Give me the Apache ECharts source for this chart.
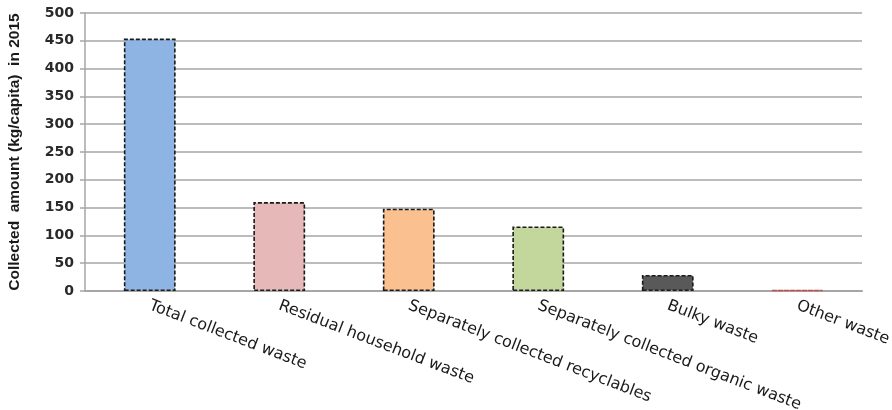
<!DOCTYPE html>
<html>
<head>
<meta charset="utf-8">
<script src="https://cdn.jsdelivr.net/npm/echarts@6/dist/echarts.min.js"></script>
<style>
  html, body { margin: 0; padding: 0; background: #fff; }
  #chart { width: 892px; height: 410px; }
</style>
</head>
<body>
<div id="chart"></div>
<script>
// Waste categories and per-capita collected amounts (kg/capita, 2015)
const categories = [
  'Total collected waste',
  'Residual household waste',
  'Separately collected recyclables',
  'Separately collected organic waste',
  'Bulky waste',
  'Other waste'
];
const amounts = [454, 160, 148, 116, 29, 2];
const fillColors = ['#8EB4E3', '#E6B9B8', '#FAC090', '#C3D69B', '#595959', '#E6B9B8'];
const borderColors = ['#1a1a1a', '#1a1a1a', '#1a1a1a', '#1a1a1a', '#1a1a1a', '#C0504D'];
const yTicks = { min: 0, max: 500, step: 50 };

const chart = echarts.init(document.getElementById('chart'));

chart.setOption({
  animation: false,
  grid: { left: 85, right: 30, top: 13, bottom: 119, outerBoundsMode: 'none', containLabel: false },
  xAxis: {
    type: 'category',
    data: categories,
    axisLine: { lineStyle: { color: '#A6A6A6', width: 2 } },
    axisTick: { show: false },
    axisLabel: {
      rotate: -21,
      interval: 0,
      margin: 14,
      color: '#1a1a1a',
      fontFamily: 'DejaVu Sans, Verdana, sans-serif',
      fontSize: 16
    }
  },
  yAxis: {
    type: 'value',
    min: yTicks.min,
    max: yTicks.max,
    interval: yTicks.step,
    name: 'Collected  amount (kg/capita)  in 2015',
    nameLocation: 'middle',
    nameGap: 62,
    nameTextStyle: {
      fontFamily: 'Liberation Sans Narrow, Arial Narrow, sans-serif',
      fontWeight: 'bold',
      fontSize: 15.5,
      color: '#1a1a1a'
    },
    axisLine: { show: true, lineStyle: { color: '#A6A6A6', width: 1.5 } },
    axisTick: { show: true, length: 5, lineStyle: { color: '#A6A6A6', width: 1.5 } },
    axisLabel: {
      margin: 11,
      color: '#2a2a2a',
      fontFamily: 'DejaVu Sans, Verdana, sans-serif',
      fontWeight: 'bold',
      fontSize: 14
    },
    splitLine: { lineStyle: { color: '#A6A6A6', width: 1.5 } }
  },
  series: [{
    type: 'bar',
    barWidth: '40%',
    data: amounts.map((v, i) => ({
      value: v,
      itemStyle: {
        color: fillColors[i],
        borderColor: borderColors[i],
        borderWidth: 1.6,
        borderType: [4, 2]
      }
    }))
  }]
});
</script>
</body>
</html>
